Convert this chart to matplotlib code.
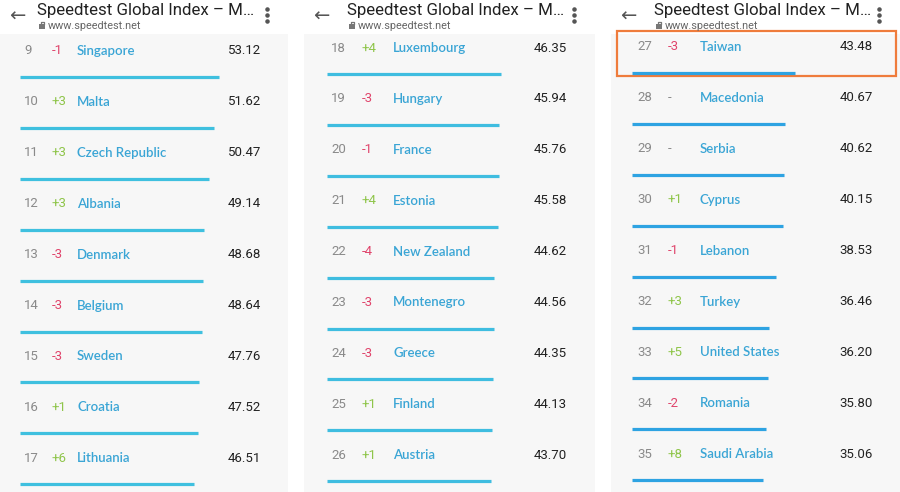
import matplotlib.pyplot as plt
from matplotlib.patches import Rectangle

# data: three screens of the ranking
ranks = [[9, 10, 11, 12, 13, 14, 15, 16, 17],
         [18, 19, 20, 21, 22, 23, 24, 25, 26],
         [27, 28, 29, 30, 31, 32, 33, 34, 35]]
changes = [["-1", "+3", "+3", "+3", "-3", "-3", "-3", "+1", "+6"],
           ["+4", "-3", "-1", "+4", "-4", "-3", "-3", "+1", "+1"],
           ["-3", "-", "-", "+1", "-1", "+3", "+5", "-2", "+8"]]
countries = [["Singapore", "Malta", "Czech Republic", "Albania", "Denmark",
              "Belgium", "Sweden", "Croatia", "Lithuania"],
             ["Luxembourg", "Hungary", "France", "Estonia", "New Zealand",
              "Montenegro", "Greece", "Finland", "Austria"],
             ["Taiwan", "Macedonia", "Serbia", "Cyprus", "Lebanon",
              "Turkey", "United States", "Romania", "Saudi Arabia"]]
speeds = [[53.12, 51.62, 50.47, 49.14, 48.68, 48.64, 47.76, 47.52, 46.51],
          [46.35, 45.94, 45.76, 45.58, 44.62, 44.56, 44.35, 44.13, 43.70],
          [43.48, 40.67, 40.62, 40.15, 38.53, 36.46, 36.20, 35.80, 35.06]]
title = "Speedtest Global Index \u2013 M\u2026"
url = "www.speedtest.net"

# layout of each phone screen
panel_x = [(0, 288), (304, 595), (611, 900)]
row_top = [51, 48, 47]
bar_off = [26, 26, 26]
bar_x0 = [20, 327, 632]
col_rank = [24, 331, 637]
col_chg = [52, 362, 668]
col_name = [77, 393, 700]
col_val = [261, 567, 873]
bar_col = ["#3fc0df", "#3fbde0", "#2ea3e2"]
step = 50.9
px_per_mbps = 3.75

fig = plt.figure(figsize=(9, 4.92), dpi=100)
ax = fig.add_axes([0, 0, 1, 1])
ax.set_xlim(0, 900)
ax.set_ylim(492, 0)
ax.axis("off")

font = "Roboto"
for p in range(3):
    x0, x1 = panel_x[p]
    ax.add_patch(Rectangle((x0, 34), x1 - x0, 460, color="#f7f7f7", lw=0))
    # header
    ax.text(x0 + 17, 16, "\u2190", fontsize=14, color="#555555",
            ha="center", va="center", family="DejaVu Sans")
    ax.text(x0 + 37 + (6 if p else 0), 10, title, fontsize=12.2, color="#222222",
            ha="left", va="center", family=font)
    lx = x0 + 39 + (6 if p else 0)
    ax.add_patch(Rectangle((lx, 24), 6, 5, color="#777777", lw=0))
    ax.plot([lx + 1.5, lx + 1.5, lx + 4.5, lx + 4.5], [24, 21.5, 21.5, 24],
            color="#777777", lw=0.9)
    ax.text(lx + 9, 26, url, fontsize=7.8, color="#666666", ha="left",
            va="center", family=font)
    ax.scatter([x1 - 21] * 3, [9, 15, 21], s=5, color="#555555")
    # rows
    for i in range(9):
        y = row_top[p] + i * step
        ax.text(col_rank[p], y, str(ranks[p][i]), fontsize=9.5, color="#8a8a8a",
                ha="left", va="center", family=font)
        c = changes[p][i]
        cc = "#e0456c" if c.startswith("-") and c != "-" else (
            "#8fc54a" if c.startswith("+") else "#8a8a8a")
        ax.text(col_chg[p], y, c, fontsize=9.5, color=cc, ha="left",
                va="center", family=font)
        ax.text(col_name[p], y, countries[p][i], fontsize=9.5, color="#3aa5d5",
                ha="left", va="center", family="Lato", fontweight="semibold")
        ax.text(col_val[p], y, "%.2f" % speeds[p][i], fontsize=9.5,
                color="#222222", ha="right", va="center", family=font)
        by = y + bar_off[p]
        ax.hlines(by, bar_x0[p], bar_x0[p] + speeds[p][i] * px_per_mbps,
                  color=bar_col[p], lw=2.3)

# highlight box around Taiwan
ax.add_patch(Rectangle((617, 31), 279, 45, fill=False, edgecolor="#ef7c3c",
                       lw=1.6))

fig.savefig("out.png", dpi=100)
